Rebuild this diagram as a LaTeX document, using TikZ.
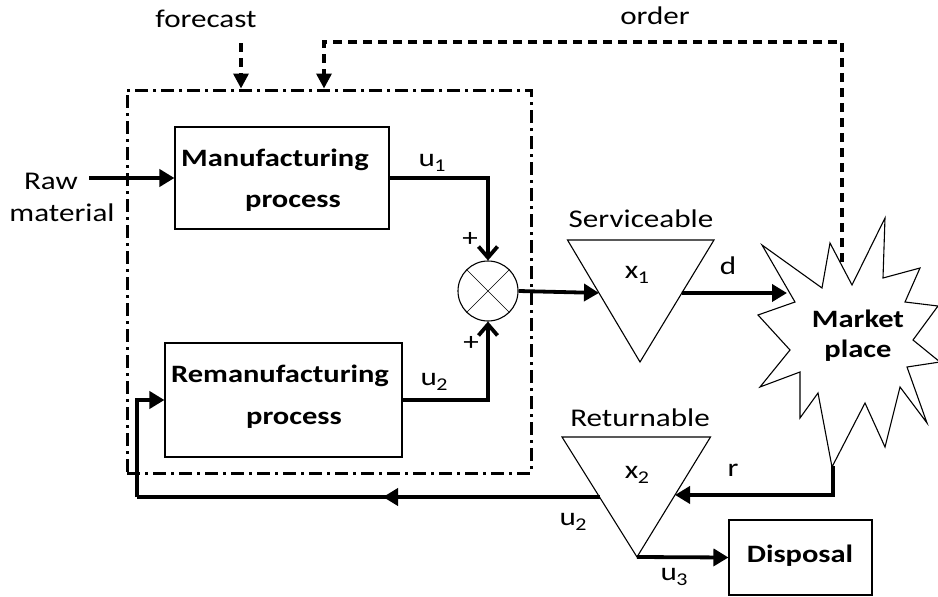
\documentclass[tikz,border=0pt]{standalone}
\usepackage{fontspec}
\setmainfont[FakeStretch=1.22]{Carlito}
\usetikzlibrary{arrows.meta,calc}
% variable with a small lowered index
\newcommand{\varsub}[2]{#1\kern-0.5pt\raisebox{-4.5pt}{\fontsize{18}{18}\selectfont #2}}

\begin{document}
\begin{tikzpicture}[x=1pt,y=-1pt,
  txt/.style={inner sep=0pt, font=\fontsize{25.5}{30}\selectfont},
  btxt/.style={inner sep=0pt, font=\fontsize{25}{30}\selectfont\bfseries},
  procbox/.style={draw, line width=1.1pt, inner sep=0pt},
  flow/.style={line width=3.8pt, -{Triangle[length=15pt,width=17pt]}},
  plain/.style={line width=3.8pt},
  sumflow/.style={line width=3.8pt, -{Straight Barb[length=11pt,width=19pt]}},
  order/.style={line width=3.4pt, dash pattern=on 9pt off 6pt, -{Triangle[length=15pt,width=15pt]}},
  ctrlbox/.style={draw, line width=3pt, dash pattern=on 13pt off 5pt on 3pt off 5pt, inner sep=0pt},
  stock/.style={draw, line width=1.1pt, line join=miter}
]
\useasboundingbox (0,0) rectangle (938,597);

% control region
\node[ctrlbox, minimum width=404pt, minimum height=383pt] (plant) at (329,281.5) {};

% process blocks
\node[procbox, minimum width=214pt, minimum height=102pt] (mfg) at (282,178) {};
\node[btxt] (mfgA) at (275,160) {Manufacturing};
\node[btxt] (mfgB) at (293,203) {process};

\node[procbox, minimum width=237pt, minimum height=114pt] (rem) at (283.5,400) {};
\node[btxt] (remA) at (280,376) {Remanufacturing};
\node[btxt] (remB) at (294,420) {process};

\node[procbox, minimum width=143pt, minimum height=75pt] (disp) at (800.5,557.5) {};
\node[btxt] (dispT) at (800,556) {Disposal};

% summing junction
\node[circle, draw, line width=1.1pt, minimum size=60pt, inner sep=0pt] (sum) at (488,291) {};
\draw[line width=0.6pt] (sum.north west) -- (sum.south east) (sum.north east) -- (sum.south west);

% serviceable stock
\coordinate (s1) at (567.5,240);
\coordinate (s2) at (714,240);
\coordinate (s3) at (640,362);
\draw[stock] (s1) -- (s2) -- (s3) -- cycle;
\coordinate (sIn) at ($(s1)!0.434!(s3)$);
\coordinate (sOut) at ($(s2)!0.434!(s3)$);
\node[txt] (servT) at (641,219) {Serviceable};
\node[txt] (x1) at (637,275) {\varsub{x}{1}};

% returnable stock
\coordinate (r1) at (562,437);
\coordinate (r2) at (710.5,437);
\coordinate (r3) at (637,557);
\draw[stock] (r1) -- (r2) -- (r3) -- cycle;
\coordinate (rOut) at ($(r1)!0.5!(r3)$);
\coordinate (rIn) at ($(r2)!0.483!(r3)$);
\node[txt] (retT) at (640,418) {Returnable};
\node[txt] (x2) at (637,475) {\varsub{x}{2}};

% market place
\draw[stock] (885,218) -- (883,278) -- (920,268) -- (905,302) -- (938,306) -- (913,340)
  -- (940,362) -- (907,367) -- (927,423) -- (900,387) -- (885,447) -- (865,403)
  -- (832,467) -- (818,393) -- (800,418) -- (800,372) -- (760,387) -- (790,350)
  -- (758,315) -- (795,302) -- (762,245) -- (822,288) -- (830,243) -- (852,285) -- cycle;
\node[btxt, align=center] (mkt) at (858,336) {Market\\place};
\coordinate (mktIn) at (787,293);
\coordinate (mktTop) at (842,262);
\coordinate (mktBot) at (833,466);

% inputs and information flows
\node[txt] (rawA) at (51,181) {Raw};
\node[txt] (rawB) at (62,213) {material};
\coordinate (rawS) at (89,178);
\draw[flow] (rawS) -- (mfg.west);

\node[txt] (fc) at (206,19) {forecast};
\coordinate (fcS) at (241,43);
\draw[order] (fcS) -- (fcS |- plant.north);

\node[txt] (ordT) at (655,16) {order};
\coordinate (ordC) at (324,42);
\draw[order] (mktTop) -- (mktTop |- ordC) -- (ordC) -- (ordC |- plant.north);

% material flows
\draw[sumflow] (mfg.east) -| (sum.north);
\draw[sumflow] (rem.east) -| (sum.south);
\node[txt] (u1) at (432,163) {\varsub{u}{1}};
\node[txt] (u2a) at (434,382) {\varsub{u}{2}};
\node[txt] (pA) at (470,239) {+};
\node[txt] (pB) at (471,343) {+};

\draw[flow] (sum.east) -- (sIn);
\draw[flow] (sOut) -- (mktIn);
\node[txt] (dT) at (728,266) {d};

\draw[flow] (mktBot) |- (rIn);
\node[txt] (rT) at (733,470) {r};

\coordinate (retC) at (137,497);
\draw[plain] (rOut) -- (retC);
\draw[flow] (rOut) -- (383,497);
\draw[flow] (retC) |- (rem.west);
\node[txt] (u2b) at (573,522) {\varsub{u}{2}};

\draw[flow] (r3) -- (disp.west);
\node[txt] (u3) at (674,577) {\varsub{u}{3}};
\end{tikzpicture}
\end{document}
